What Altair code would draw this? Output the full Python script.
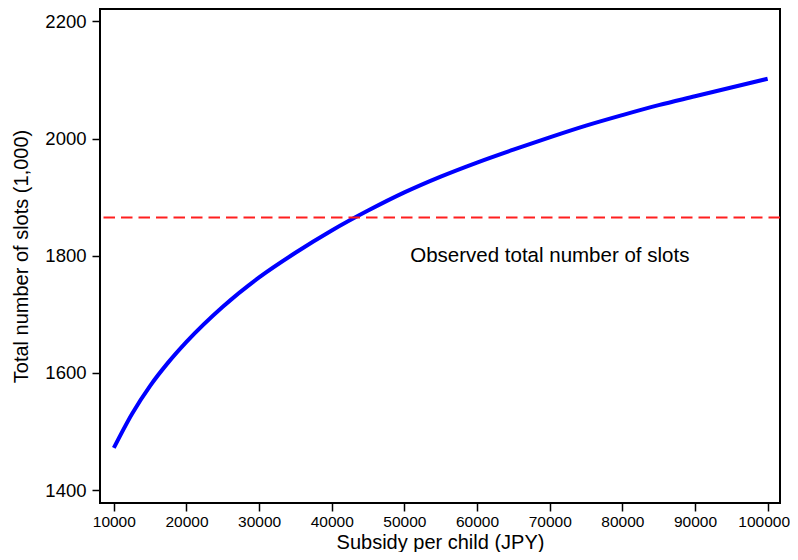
import altair as alt
import pandas as pd

subsidy = [10000, 12500, 15000, 17500, 20000, 25000, 30000, 35000, 40000, 45000,
           50000, 55000, 60000, 65000, 70000, 75000, 80000, 85000, 90000, 95000, 100000]
slots = [1472, 1530, 1578, 1618, 1653, 1713, 1763, 1805, 1843, 1877,
         1908, 1935, 1959, 1981, 2002, 2022, 2040, 2057, 2072, 2087, 2102]
observed_total = 1865
x_ticks = [10000, 20000, 30000, 40000, 50000, 60000, 70000, 80000, 90000, 100000]
y_ticks = [1400, 1600, 1800, 2000, 2200]
label_text = "Observed total number of slots"
label_x = 50800
label_y = 1799

df = pd.DataFrame({"subsidy": subsidy, "slots": slots})
obs_df = pd.DataFrame({"y": [observed_total]})
lab_df = pd.DataFrame({"x": [label_x], "y": [label_y], "t": [label_text]})

FONT = "Liberation Sans"
xs = alt.Scale(domain=[8100, 101700], nice=False, zero=False)
ys = alt.Scale(domain=[1378, 2221], nice=False, zero=False)

line = alt.Chart(df).mark_line(color="#0000ff", strokeWidth=4, interpolate="monotone").encode(
    x=alt.X("subsidy:Q", scale=xs,
            axis=alt.Axis(title="Subsidy per child (JPY)", values=x_ticks, format="d",
                          grid=False, domain=False, tickSize=8, tickWidth=1.5, tickColor="black",
                          labelFontSize=15.5, labelColor="black", labelPadding=3,
                          labelOffset={"condition": {"test": "datum.value == 100000", "value": -4},
                                       "value": 0},
                          titleFontSize=20, titleFontWeight="normal", titleColor="black",
                          titleBaseline="alphabetic", titleY=45,
                          labelFont=FONT, titleFont=FONT)),
    y=alt.Y("slots:Q", scale=ys,
            axis=alt.Axis(title="Total number of slots (1,000)", values=y_ticks, format="d",
                          grid=False, domain=False, tickSize=8, tickWidth=1.5, tickColor="black",
                          labelFontSize=18.5, labelColor="black", labelPadding=6,
                          titleFontSize=20, titleFontWeight="normal", titleColor="black",
                          titlePadding=13, labelFont=FONT, titleFont=FONT)),
)

rule = alt.Chart(obs_df).mark_rule(color="#ff1f1f", strokeWidth=2, strokeDash=[11.5, 6]).encode(
    y=alt.Y("y:Q", scale=ys)
)

text = alt.Chart(lab_df).mark_text(align="left", baseline="middle", fontSize=20.5,
                                   font=FONT, color="black").encode(
    x=alt.X("x:Q", scale=xs), y=alt.Y("y:Q", scale=ys), text="t:N"
)

chart = alt.layer(line, rule, text).properties(
    width=680, height=494,
    autosize=alt.AutoSizeParams(type="none"),
    padding={"left": 92, "top": 1, "right": 10, "bottom": 49},
).configure(
    background="white",
    view=alt.ViewConfig(stroke="black", strokeWidth=2),
)

chart.save("out.html", embed_options={"renderer": "svg", "actions": False})
